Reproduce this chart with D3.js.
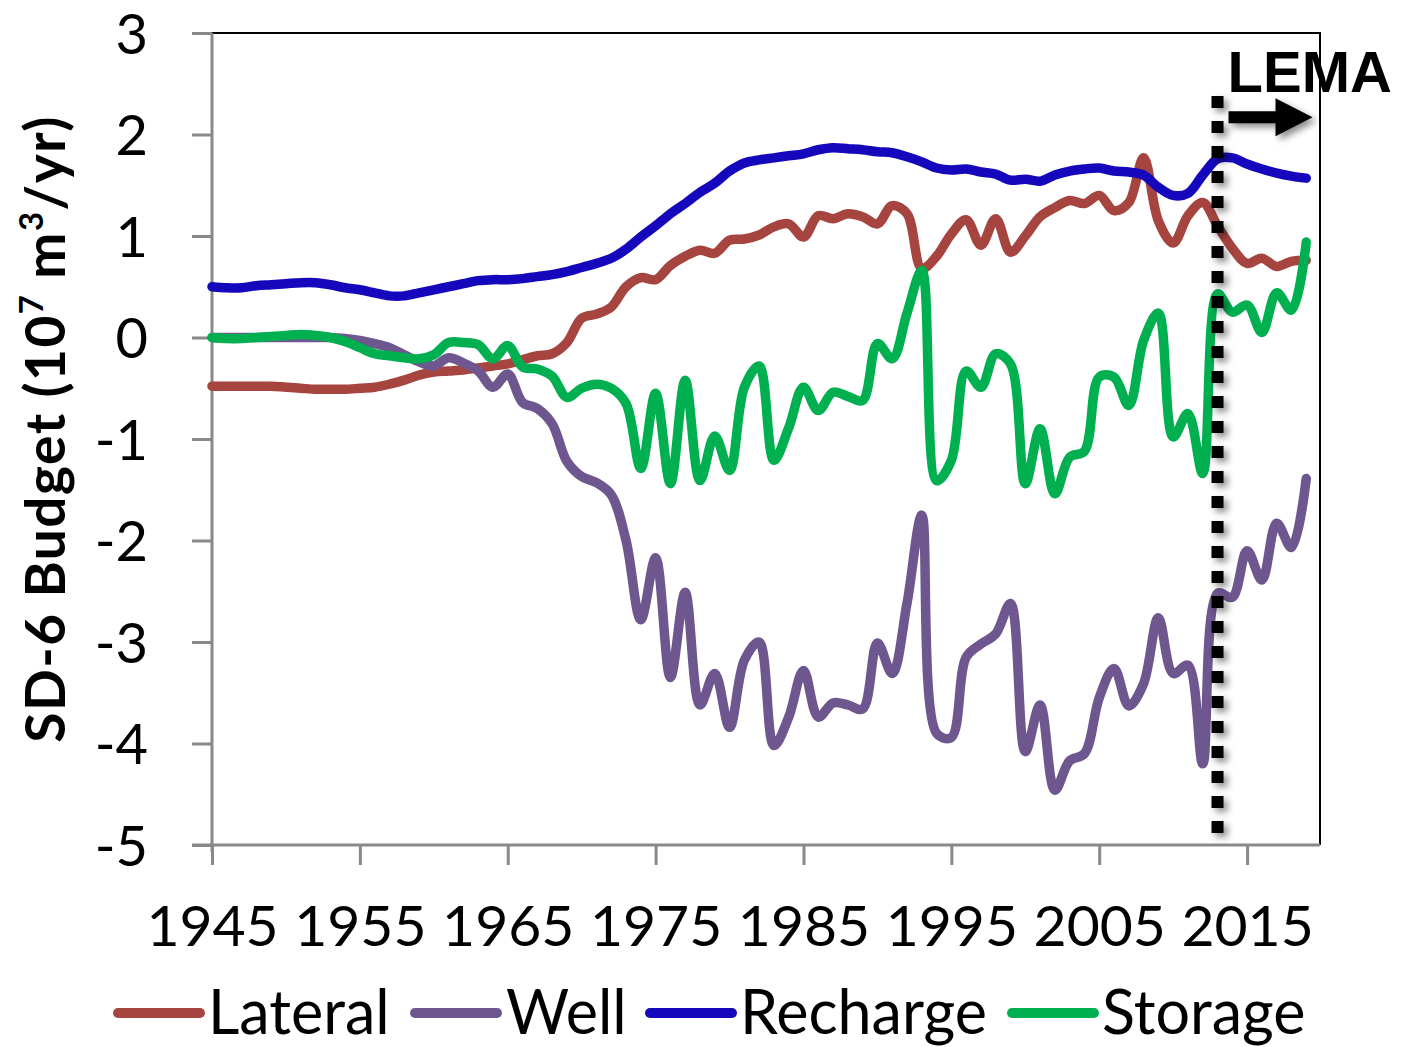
<!DOCTYPE html>
<html>
<head>
<meta charset="utf-8">
<script src="https://cdn.jsdelivr.net/npm/d3@7"></script>
<style>
  html, body { margin: 0; padding: 0; background: #fff; }
  svg { display: block; }
</style>
</head>
<body>
<svg id="chart" width="1403" height="1047"></svg>
<script>
// SD-6 groundwater budget components, 10^7 m^3/yr, one value per year 1945-2019
const firstYear = 1945;
const lastYear = 2019;
const lemaYear = 2013;

const lateral = [
  -0.48, -0.48, -0.48, -0.48, -0.48,
  -0.49, -0.50, -0.51, -0.51, -0.51,
  -0.50, -0.49, -0.46, -0.42, -0.37,
  -0.34, -0.33, -0.32, -0.30, -0.28,
  -0.26, -0.22, -0.18, -0.16, -0.05,
   0.19,  0.23,  0.30,  0.50,  0.59,
   0.57,  0.71,  0.80,  0.86,  0.83,
   0.96,  0.97,  1.01,  1.09,  1.12,
   0.99,  1.20,  1.17,  1.22,  1.19,
   1.12,  1.30,  1.22,  0.68,  0.80,
   1.02,  1.16,  0.91,  1.17,  0.84,
   1.00,  1.19,  1.28,  1.35,  1.32,
   1.40,  1.25,  1.33,  1.77,  1.15,
   0.93,  1.20,  1.33,  1.10,  0.88,
   0.73,  0.78,  0.70,  0.75,  0.76
];

const well = [
   0.00,  0.00,  0.00,  0.00,  0.00,
   0.00,  0.00,  0.00,  0.00, -0.01,
  -0.03, -0.06, -0.10, -0.17, -0.24,
  -0.28, -0.20, -0.25, -0.33, -0.49,
  -0.36, -0.64, -0.70, -0.85, -1.22,
  -1.37, -1.43, -1.55, -2.00, -2.78,
  -2.17, -3.35, -2.51, -3.62, -3.31,
  -3.84, -3.18, -3.00, -4.02, -3.74,
  -3.28, -3.74, -3.60, -3.62, -3.66,
  -3.01, -3.31, -2.62, -1.75, -3.90,
  -3.94, -3.15, -3.02, -2.92, -2.62,
  -4.08, -3.62, -4.46, -4.17, -4.10,
  -3.55, -3.26, -3.63, -3.41, -2.76,
  -3.31, -3.23, -4.20, -2.52, -2.56,
  -2.10, -2.39, -1.83, -2.07, -1.39
];

const recharge = [
  0.50, 0.49, 0.49, 0.51, 0.52,
  0.53, 0.54, 0.54, 0.52, 0.49,
  0.47, 0.44, 0.41, 0.41, 0.44,
  0.47, 0.50, 0.53, 0.56, 0.57,
  0.57, 0.58, 0.60, 0.62, 0.65,
  0.69, 0.73, 0.78, 0.87, 0.99,
  1.10, 1.22, 1.32, 1.43, 1.52,
  1.64, 1.72, 1.75, 1.77, 1.79,
  1.81, 1.85, 1.87, 1.86, 1.85,
  1.83, 1.82, 1.78, 1.73, 1.67,
  1.65, 1.66, 1.63, 1.61, 1.55,
  1.56, 1.54, 1.60, 1.64, 1.66,
  1.67, 1.64, 1.63, 1.60, 1.48,
  1.40, 1.42, 1.60, 1.76, 1.77,
  1.71, 1.66, 1.62, 1.59, 1.57
];

const storage = [
   0.00, -0.01, -0.01,  0.00,  0.01,
   0.02,  0.03,  0.02,  0.00, -0.04,
  -0.10, -0.16, -0.18, -0.20, -0.21,
  -0.17, -0.05, -0.05, -0.07, -0.21,
  -0.08, -0.29, -0.31, -0.38, -0.59,
  -0.50, -0.46, -0.50, -0.65, -1.29,
  -0.55, -1.44, -0.42, -1.41, -0.97,
  -1.31, -0.49, -0.28, -1.21, -0.89,
  -0.49, -0.72, -0.54, -0.58, -0.62,
  -0.06, -0.21,  0.24,  0.66, -1.41,
  -1.21, -0.33, -0.49, -0.16, -0.26,
  -1.44, -0.90, -1.54, -1.18, -1.12,
  -0.39, -0.39, -0.67, -0.03,  0.24,
  -0.98, -0.75, -1.34,  0.43,  0.25,
   0.32,  0.05,  0.44,  0.27,  0.94
];

const seriesNames = ["Lateral", "Well", "Recharge", "Storage"];
const seriesValues = [lateral, well, recharge, storage];
const seriesColors = ["#A6443F", "#6E568F", "#1508BC", "#00B050"];

const xTickYears = [1945, 1955, 1965, 1975, 1985, 1995, 2005, 2015];
const yTicks = [3, 2, 1, 0, -1, -2, -3, -4, -5];

const years = d3.range(firstYear, lastYear + 1);

// ---- layout ----
const W = 1403, H = 1047;
const plot = { left: 212, right: 1320, top: 33, bottom: 845 };
const labelFont = "Lato, 'Open Sans', sans-serif";

const svg = d3.select("#chart");

const x = d3.scaleLinear().domain([1945, 2020]).range([plot.left, plot.left + 75 * 14.787]);
const y = d3.scaleLinear().domain([-5, 3]).range([plot.bottom, plot.top]);

// drop shadow used by the LEMA marker
const defs = svg.append("defs");
const shadow = defs.append("filter").attr("id", "softShadow")
  .attr("x", "-50%").attr("y", "-10%").attr("width", "200%").attr("height", "120%");
shadow.append("feDropShadow")
  .attr("dx", 4).attr("dy", 4).attr("stdDeviation", 3.5)
  .attr("flood-color", "#000").attr("flood-opacity", 0.45);

// plot frame: black top and right edges
svg.append("path")
  .attr("d", `M${plot.left},${plot.top}H${plot.right}V${plot.bottom}`)
  .attr("fill", "none").attr("stroke", "#000").attr("stroke-width", 2);

// y axis
const yAxis = d3.axisLeft(y).tickValues(yTicks).tickSize(20).tickPadding(44)
  .tickFormat(d => String(d));
const gy = svg.append("g").attr("transform", `translate(${plot.left},0)`).call(yAxis);
gy.select(".domain").attr("d", `M0,${plot.top}V${plot.bottom + 7}`);
gy.selectAll("path, line").attr("stroke", "#898989").attr("stroke-width", 3);
gy.selectAll("text")
  .attr("font-family", labelFont).attr("font-size", 56).attr("fill", "#000")
  .attr("dy", "0.36em");

// x axis
const xAxis = d3.axisBottom(x).tickValues(xTickYears).tickSize(20).tickPadding(40)
  .tickFormat(d3.format("d"));
const gx = svg.append("g").attr("transform", `translate(0,${plot.bottom})`).call(xAxis);
gx.select(".domain").attr("d", `M${plot.left - 20},0H${plot.right}`);
gx.selectAll("path, line").attr("stroke", "#898989").attr("stroke-width", 3);
gx.selectAll("text")
  .attr("font-family", labelFont).attr("font-size", 57).attr("fill", "#000")
  .attr("dy", "0.72em");

// y axis title
const title = svg.append("text")
  .attr("transform", `translate(65,429) rotate(-90)`)
  .attr("text-anchor", "middle")
  .attr("font-family", labelFont).attr("font-weight", 700).attr("font-size", 55)
  .attr("letter-spacing", 1.5)
  .attr("fill", "#000");
title.append("tspan").text("SD-6 Budget (10");
title.append("tspan").attr("font-size", 33).attr("dy", -22).text("7");
title.append("tspan").attr("dy", 22).text(" m");
title.append("tspan").attr("font-size", 33).attr("dy", -22).text("3");
title.append("tspan").attr("dy", 22).text("/yr)");

// series lines
const line = d3.line()
  .x((d, i) => x(years[i]))
  .y(d => y(d))
  .curve(d3.curveCatmullRom.alpha(0.5));

svg.append("g").selectAll("path")
  .data(seriesValues)
  .join("path")
  .attr("d", d => line(d))
  .attr("fill", "none")
  .attr("stroke", (d, i) => seriesColors[i])
  .attr("stroke-width", 9.5)
  .attr("stroke-linejoin", "round")
  .attr("stroke-linecap", "round");

// LEMA marker: dotted vertical line, label and arrow
const lx = x(lemaYear);
const lema = svg.append("g").attr("filter", "url(#softShadow)");
lema.append("line")
  .attr("x1", lx).attr("x2", lx)
  .attr("y1", y(2.38)).attr("y2", plot.bottom)
  .attr("stroke", "#000").attr("stroke-width", 12)
  .attr("stroke-dasharray", "12 13");

const ay = y(2.17);
lema.append("path")
  .attr("d", `M${lx + 11},${ay - 6}H${lx + 58}V${ay - 19}L${lx + 95},${ay}L${lx + 58},${ay + 19}V${ay + 6}H${lx + 11}Z`)
  .attr("fill", "#000");

svg.append("text")
  .attr("x", lx + 10).attr("y", y(2.42))
  .attr("font-family", "'Liberation Sans', Arial, sans-serif")
  .attr("font-weight", 700).attr("font-size", 58)
  .attr("fill", "#000")
  .text("LEMA");

// legend
const legendItems = [
  { x0: 118, tx: 208 },
  { x0: 415, tx: 506 },
  { x0: 650, tx: 740 },
  { x0: 1012, tx: 1102 }
];
const legendY = 1013;
const lg = svg.append("g");
seriesNames.forEach((name, i) => {
  lg.append("line")
    .attr("x1", legendItems[i].x0).attr("x2", legendItems[i].x0 + 82)
    .attr("y1", legendY).attr("y2", legendY)
    .attr("stroke", seriesColors[i]).attr("stroke-width", 10)
    .attr("stroke-linecap", "round");
  lg.append("text")
    .attr("x", legendItems[i].tx).attr("y", legendY + 21)
    .attr("font-family", labelFont).attr("font-size", 61).attr("fill", "#000")
    .text(name);
});
</script>
</body>
</html>
